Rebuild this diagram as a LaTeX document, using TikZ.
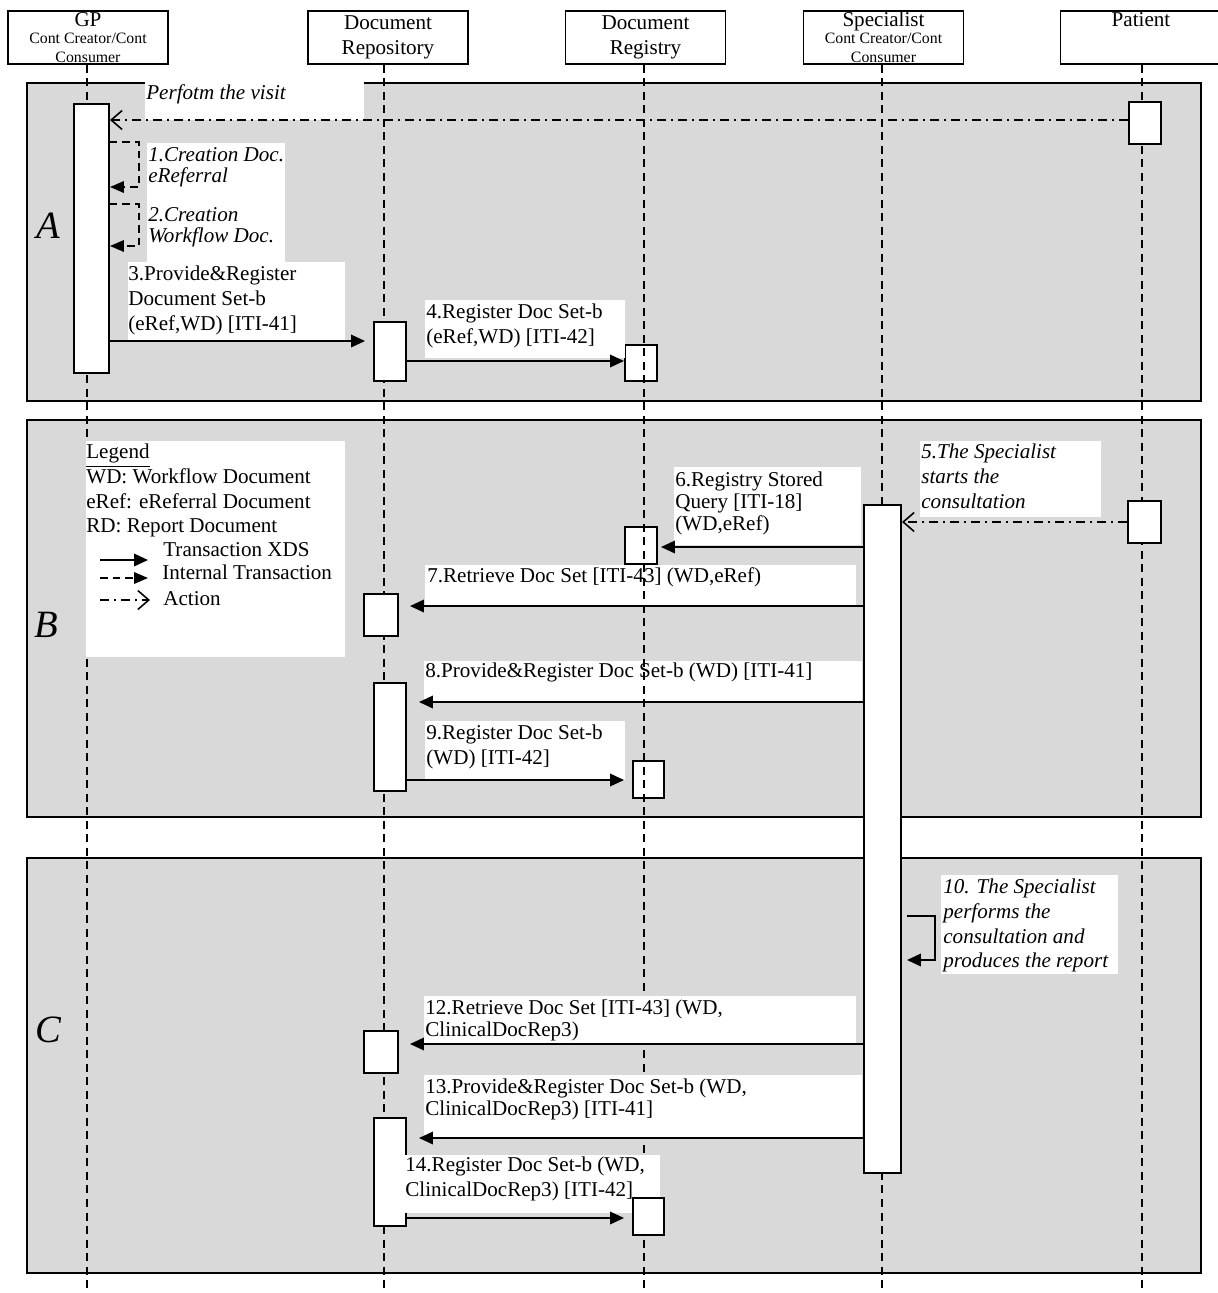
\documentclass[tikz,border=0pt]{standalone}
\usepackage{fontspec}
\setmainfont{Liberation Serif}
\usetikzlibrary{arrows.meta,fit}
\definecolor{zonegray}{RGB}{217,217,217}
\tikzset{
	head/.style={draw,line width=1.1pt,minimum width=32mm,minimum height=10.6mm,inner sep=0pt,align=center,font=\fontsize{12}{14}\selectfont},
	act/.style={draw,fill=white,line width=1.1pt,inner sep=0pt},
	zone/.style={draw,fill=zonegray,line width=1.1pt},
	life/.style={line width=0.8pt,dash pattern=on 1.6mm off 1.1mm},
	trans/.style={line width=1.1pt,-{Triangle[length=2.8mm,width=2.5mm]}},
	intern/.style={line width=1.1pt,dash pattern=on 1.5mm off 1mm,-{Triangle[length=2.8mm,width=2.3mm]}},
	action/.style={line width=0.9pt,dash pattern=on 1.8mm off 1mm on 0.4mm off 1mm,-{Straight Barb[length=2.2mm,width=3.8mm]}},
	txt/.style={anchor=north west,inner sep=0pt,align=left,font=\fontsize{12}{14}\selectfont},
	ttxt/.style={anchor=north west,inner sep=0pt,align=left,font=\fontsize{12}{12.5}\selectfont},
	itxt/.style={anchor=north west,inner sep=0pt,align=left,font=\fontsize{12}{14}\selectfont\itshape},
	titxt/.style={anchor=north west,inner sep=0pt,align=left,font=\fontsize{12}{12}\selectfont\itshape},
	zonelbl/.style={font=\fontsize{22}{24}\selectfont\itshape}
}
\begin{document}
\begin{tikzpicture}[x=0.2mm,y=-0.2mm]
\useasboundingbox (0,0) rectangle (1218,1293);
\clip (0,0) rectangle (1218,1293);
% zones
\draw[zone] (27,83) rectangle (1201,401);
\draw[zone] (27,420) rectangle (1201,817);
\draw[zone] (27,858) rectangle (1201,1273);
\node[zonelbl] (za) at (48,226) {A};
\node[zonelbl] (zb) at (46,625) {B};
\node[zonelbl] (zc) at (48,1030) {C};
% headers
\node[head] (gp) at (88,37.5) {GP\\[-4.5pt]{\fontsize{9}{10}\selectfont Cont Creator/Cont}\\[-3pt]{\fontsize{9}{10}\selectfont Consumer}};
\node[head] (rep) at (388,37.5) {Document\\Repository};
\node[head] (reg) at (645.5,37.5) {Document\\Registry};
\node[head] (spc) at (883.5,37.5) {Specialist\\[-4.5pt]{\fontsize{9}{10}\selectfont Cont Creator/Cont}\\[-3pt]{\fontsize{9}{10}\selectfont Consumer}};
\node[head,minimum width=31.8mm] (pat) at (1140,37.5) {};
\node[anchor=north,inner sep=0pt,font=\fontsize{12}{14}\selectfont] (patname) at (1141,12) {Patient};
% white under lifelines
\fill[white] (425,565) rectangle (856,605);
\fill[white] (424,661) rectangle (862,702);
\node[act,fit={(625,345) (657,381)}] (regA) {};
\node[act,fit={(625,527) (657,564)}] (regB) {};
\node[act,fit={(633,761) (664,798)}] (regB2) {};
% lifelines
\foreach \n/\x in {gp/87,rep/384,reg/644,spc/882,pat/1142}
	\draw[life] (\n.south -| \x,0) -- (\x,1293);
% label backgrounds
\fill[white] (145,80) rectangle (364,120);
\fill[white] (147,143) rectangle (285,262);
\fill[white] (128,262) rectangle (345,340);
\fill[white] (425,300) rectangle (625,358);
\fill[white] (86,441) rectangle (345,657);
\fill[white] (674,467) rectangle (861,545);
\fill[white] (920,441) rectangle (1101,517);
\fill[white] (425,721) rectangle (625,780);
\fill[white] (941,875) rectangle (1118,974);
\fill[white] (424,996) rectangle (856,1043);
\fill[white] (424,1075) rectangle (862,1138);
% activations
\node[act,fit={(74,104) (109,373)}] (gpact) {};
\node[act,fit={(1129,102) (1161,144)}] (patA) {};
\node[act,fit={(374,322) (406,381)}] (repA) {};
\node[act,fit={(1128,501) (1161,543)}] (patB) {};
\node[act,fit={(864,505) (901,1173)}] (specact) {};
\node[act,fit={(364,594) (398,636)}] (repB1) {};
\node[act,fit={(374,683) (406,791)}] (repB2) {};
\node[act,fit={(364,1031) (398,1073)}] (repC1) {};
\node[act,fit={(374,1118) (406,1226)}] (repC2) {};
\fill[white] (405,1155) rectangle (660,1213);
\node[act,fit={(633,1198) (664,1235)}] (regC) {};
% messages
\draw[action] (patA.west |- 0,120) -- (gpact.east |- 0,120);
\draw[intern] (gpact.east |- 0,142) -| ([xshift=5.8mm]gpact.east |- 0,187) -- (gpact.east |- 0,187);
\draw[intern] (gpact.east |- 0,204) -| ([xshift=5.8mm]gpact.east |- 0,246) -- (gpact.east |- 0,246);
\draw[trans,shorten >=1.6mm] (gpact.east |- 0,341) -- (repA.west |- 0,341);
\draw[trans] (repA.east |- 0,361) -- (regA.west |- 0,361);
\draw[action] (patB.west |- 0,522) -- (specact.east |- 0,522);
\draw[trans,shorten >=0.6mm] (specact.west |- 0,547) -- (regB.east |- 0,547);
\draw[trans,shorten >=2.2mm] (specact.west |- 0,606) -- (repB1.east |- 0,606);
\draw[trans,shorten >=2.4mm] (specact.west |- 0,702) -- (repB2.east |- 0,702);
\draw[trans,shorten >=1.6mm] (repB2.east |- 0,780) -- (regB2.west |- 0,780);
\draw[trans] ([xshift=1mm]specact.east |- 0,916) -| ([xshift=6.6mm]specact.east |- 0,960) -- ([xshift=1mm]specact.east |- 0,960);
\draw[trans,shorten >=2.2mm] (specact.west |- 0,1044) -- (repC1.east |- 0,1044);
\draw[trans,shorten >=2.4mm] (specact.west |- 0,1138) -- (repC2.east |- 0,1138);
\draw[trans,shorten >=1.6mm] (repC2.east |- 0,1218) -- (regC.west |- 0,1218);
% texts
\node[itxt] (visit) at (146,84) {Perfotm the visit};
\node[titxt] (m1) at (148,147) {1.Creation Doc.\\eReferral};
\node[titxt] (m2) at (148,207) {2.Creation\\Workflow Doc.};
\node[txt] (m3) at (128,266) {3.Provide\&Register\\Document Set-b\\(eRef,WD) [ITI-41]};
\node[txt] (m4) at (426,304) {4.Register Doc Set-b\\(eRef,WD) [ITI-42]};
\node[itxt] (m5) at (921,444) {5.The Specialist\\starts the\\consultation};
\node[ttxt] (m6) at (675,472) {6.Registry Stored\\Query [ITI-18]\\(WD,eRef)};
\node[txt] (m7) at (427,567) {7.Retrieve Doc Set [ITI-43] (WD,eRef)};
\node[txt] (m8) at (425,663) {8.Provide\&Register Doc Set-b (WD) [ITI-41]};
\node[txt] (m9) at (426,725) {9.Register Doc Set-b\\(WD) [ITI-42]};
\node[itxt] (m10) at (943,879) {10. The Specialist\\performs the\\consultation and\\produces the report};
\node[ttxt] (m12) at (425,1000) {12.Retrieve Doc Set [ITI-43] (WD,\\ClinicalDocRep3)};
\node[ttxt] (m13) at (425,1079) {13.Provide\&Register Doc Set-b (WD,\\ClinicalDocRep3) [ITI-41]};
\node[txt] (m14) at (405,1157) {14.Register Doc Set-b (WD,\\ClinicalDocRep3) [ITI-42]};
% legend
\node[txt] (legend) at (86,444) {\underline{Legend}\\WD: Workflow Document\\eRef: eReferral Document\\RD: Report Document};
\node[txt] (lgtrans) at (163,542) {Transaction XDS};
\node[txt] (lgint) at (162,565) {Internal Transaction};
\node[txt] (lgact) at (163,591) {Action};
\draw[trans] (100,560) -- (148,560);
\draw[intern] (100,578) -- (148,578);
\draw[action] (100,600) -- (150,600);
\end{tikzpicture}
\end{document}
